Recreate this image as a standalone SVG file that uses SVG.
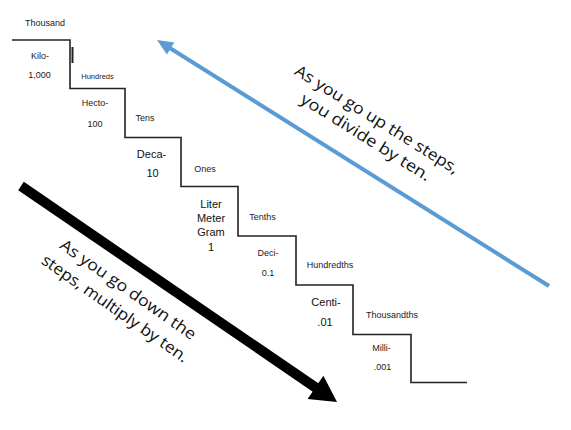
<svg xmlns="http://www.w3.org/2000/svg" width="571" height="430" viewBox="0 0 571 430">
<style>
text{font-family:"Liberation Sans",Arial,sans-serif;fill:#222;text-anchor:middle}
.s{font-size:9px}
.xs{font-size:7.5px}
.m{font-size:11px;fill:#111}
.big{font-family:"Open Sans","DejaVu Sans",sans-serif;font-size:16px;fill:#111}
.stair{fill:none;stroke:#222;stroke-width:1.6}
</style>
<rect width="571" height="430" fill="#fff"/>
<g id="stairs">
<polyline class="stair" points="12,40 70,40 70,88.5 125,88.5 125,137.5 181,137.5 181,186.5 238,186.5 238,236 296,236 296,285 353,285 353,334.5 411,334.5 411,382.5 467,382.5"/>
<line x1="72.5" y1="47" x2="72.5" y2="63" stroke="#222" stroke-width="2"/>
</g>
<g id="thousand"><text class="s" x="45" y="26">Thousand</text></g>
<g id="kilo"><text class="s" x="40" y="59">Kilo-</text><text class="s" x="39.5" y="78">1,000</text></g>
<g id="hundreds"><text class="xs" x="97.5" y="78.5">Hundreds</text></g>
<g id="hecto"><text class="s" x="95" y="106">Hecto-</text><text class="s" x="95" y="127">100</text></g>
<g id="tens"><text class="s" x="145" y="121">Tens</text></g>
<g id="deca"><text class="m" x="151.5" y="158">Deca-</text><text class="m" x="152.5" y="177">10</text></g>
<g id="ones"><text class="s" x="205" y="172">Ones</text></g>
<g id="base"><text class="m" x="211" y="208">Liter</text><text class="m" x="211" y="222">Meter</text><text class="m" x="211" y="236">Gram</text><text class="m" x="211" y="251">1</text></g>
<g id="tenths"><text class="s" x="262.5" y="220">Tenths</text></g>
<g id="deci"><text class="s" x="268" y="256">Deci-</text><text class="s" x="268" y="276">0.1</text></g>
<g id="hundredths"><text class="s" x="330" y="268">Hundredths</text></g>
<g id="centi"><text class="m" x="326" y="306">Centi-</text><text class="m" x="325" y="326">.01</text></g>
<g id="thousandths"><text class="s" x="392" y="318">Thousandths</text></g>
<g id="milli"><text class="s" x="381.5" y="351">Milli-</text><text class="s" x="382.5" y="370">.001</text></g>
<g id="connectors">
<line x1="549" y1="286" x2="169" y2="47.5" stroke="#5b9bd5" stroke-width="4"/>
<polygon points="157,40 174.3,42.6 166.9,54.4" fill="#5b9bd5"/>
<line x1="21" y1="186" x2="317" y2="388.5" stroke="#000" stroke-width="10"/>
<polygon points="337,402 307.6,399 323.4,375.8" fill="#000"/>
</g>
<g id="up-note" transform="translate(374,124) rotate(32)">
<text class="big" x="0" y="0" textLength="190" lengthAdjust="spacingAndGlyphs">As you go up the steps,</text>
<text class="big" x="0" y="21" textLength="150" lengthAdjust="spacingAndGlyphs">you divide by ten.</text>
</g>
<g id="down-note" transform="translate(125,294) rotate(35)">
<text class="big" x="0" y="0" textLength="162" lengthAdjust="spacingAndGlyphs">As you go down the</text>
<text class="big" x="0" y="23" textLength="175" lengthAdjust="spacingAndGlyphs">steps, multiply by ten.</text>
</g>
</svg>
